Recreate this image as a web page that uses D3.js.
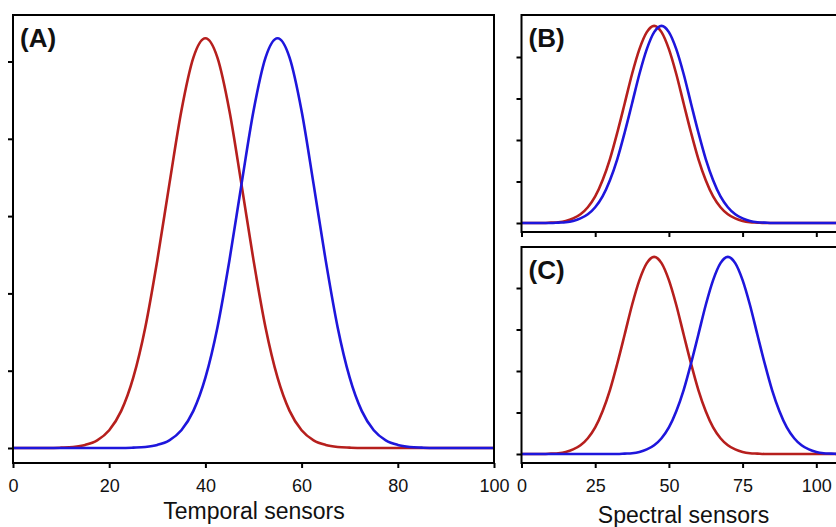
<!DOCTYPE html>
<html>
<head>
<meta charset="utf-8">
<script src="https://cdn.jsdelivr.net/npm/d3@7"></script>
<style>
  body { margin: 0; background: #fff; }
  svg { display: block; font-family: "Liberation Sans", Arial, sans-serif; }
</style>
</head>
<body>
<div id="root"></div>
<script>
// sensor positions (x) and responses
const temporalX = [0,2.5,5,7.5,10,12.5,15,17.5,20,22.5,25,27.5,30,32.5,35,37.5,40,42.5,45,47.5,50,52.5,55,57.5,60,62.5,65,67.5,70,72.5,75,77.5,80,82.5,85,87.5,90,92.5,95,97.5,100]
const temporalRed = [0,0,0,0,0.005,0.014,0.04,0.10,0.23,0.48,0.91,1.56,2.43,3.41,4.36,5.05,5.30,5.05,4.36,3.41,2.43,1.56,0.91,0.48,0.23,0.10,0.04,0.014,0.005,0,0,0,0,0,0,0,0,0,0,0,0]
const temporalBlue = [0,0,0,0,0,0,0,0,0,0,0.005,0.014,0.04,0.10,0.23,0.48,0.91,1.56,2.43,3.41,4.36,5.05,5.30,5.05,4.36,3.41,2.43,1.56,0.91,0.48,0.23,0.10,0.04,0.014,0.005,0,0,0,0,0,0]

const spectralX = [0,2.5,5,7.5,10,12.5,15,17.5,20,22.5,25,27.5,30,32.5,35,37.5,40,42.5,45,47.5,50,52.5,55,57.5,60,62.5,65,67.5,70,72.5,75,77.5,80,82.5,85,87.5,90,92.5,95,97.5,100,102.5,105,107.5]
const spectralRedB = [0,0,0,0,0.01,0.02,0.05,0.11,0.21,0.38,0.64,1.03,1.54,2.18,2.88,3.59,4.19,4.60,4.75,4.60,4.19,3.59,2.88,2.18,1.54,1.03,0.64,0.38,0.21,0.11,0.05,0.02,0.01,0,0,0,0,0,0,0,0,0,0,0]
const spectralBlueB = [0,0,0,0,0,0.01,0.02,0.05,0.11,0.21,0.38,0.64,1.03,1.54,2.18,2.88,3.59,4.19,4.60,4.75,4.60,4.19,3.59,2.88,2.18,1.54,1.03,0.64,0.38,0.21,0.11,0.05,0.02,0.01,0,0,0,0,0,0,0,0,0,0]
const spectralRedC = [0,0,0,0,0.01,0.02,0.05,0.11,0.21,0.38,0.64,1.03,1.54,2.18,2.88,3.59,4.19,4.60,4.75,4.60,4.19,3.59,2.88,2.18,1.54,1.03,0.64,0.38,0.21,0.11,0.05,0.02,0.01,0,0,0,0,0,0,0,0,0,0,0]
const spectralBlueC = [0,0,0,0,0,0,0,0,0,0,0,0,0,0,0.01,0.02,0.05,0.11,0.21,0.38,0.64,1.03,1.54,2.18,2.88,3.59,4.19,4.60,4.75,4.60,4.19,3.59,2.88,2.18,1.54,1.03,0.64,0.38,0.21,0.11,0.05,0.02,0.01,0]

const temporalTicks = [0,20,40,60,80,100]
const spectralTicks = [0,25,50,75,100]
const yTicksA = [0,1,2,3,4,5]
const yTicksBC = [0,1,2,3,4]

const RED = '#b61f1d'
const BLUE = '#1e16dc'

const width = 836
const height = 527

const svg = d3.select('#root').append('svg')
    .attr('width', width)
    .attr('height', height)

// scales
const xA = d3.scaleLinear().domain([0, 100]).range([13, 494])
const yA = d3.scaleLinear().domain([0, 5]).range([448, 61.5])
const xS = d3.scaleLinear().domain([0, 100]).range([521.5, 816.3])
const yB = d3.scaleLinear().domain([0, 4]).range([223, 57])
const yC = d3.scaleLinear().domain([0, 4]).range([454, 288])

const panels = [
    { id: 'A', x: xA, y: yA, xs: temporalX, red: temporalRed, blue: temporalBlue,
      left: 13, right: 494, top: 15, bottom: 463, yTicks: yTicksA, xTicks: temporalTicks, labels: true },
    { id: 'B', x: xS, y: yB, xs: spectralX, red: spectralRedB, blue: spectralBlueB,
      left: 521.5, right: 860, top: 15, bottom: 232, yTicks: yTicksBC, xTicks: spectralTicks, labels: false },
    { id: 'C', x: xS, y: yC, xs: spectralX, red: spectralRedC, blue: spectralBlueC,
      left: 521.5, right: 860, top: 247, bottom: 463, yTicks: yTicksBC, xTicks: spectralTicks, labels: true }
]

panels.forEach(p => {
    const g = svg.append('g').attr('class', 'panel-' + p.id)

    g.append('clipPath').attr('id', 'clip-' + p.id)
        .append('rect')
        .attr('x', p.left).attr('y', p.top)
        .attr('width', p.right - p.left).attr('height', p.bottom - p.top)

    // curves
    const line = d3.line()
        .x((d, i) => p.x(p.xs[i]))
        .y(d => p.y(d))
        .curve(d3.curveMonotoneX)

    const curves = g.append('g').attr('clip-path', `url(#clip-${p.id})`)
    curves.append('path')
        .attr('d', line(p.red))
        .attr('fill', 'none')
        .attr('stroke', RED)
        .attr('stroke-width', 2.6)
    curves.append('path')
        .attr('d', line(p.blue))
        .attr('fill', 'none')
        .attr('stroke', BLUE)
        .attr('stroke-width', 2.6)

    // y ticks, no labels
    const yAxis = g.append('g')
        .attr('transform', `translate(${p.left},0)`)
        .call(d3.axisLeft(p.y).tickValues(p.yTicks).tickSize(5).tickFormat(''))
    yAxis.select('.domain').remove()
    yAxis.selectAll('line').attr('stroke-width', 2)

    // x ticks
    const xAxis = g.append('g')
        .attr('transform', `translate(0,${p.bottom})`)
        .call(d3.axisBottom(p.x).tickValues(p.xTicks).tickSize(5).tickPadding(11)
            .tickFormat(p.labels ? d3.format('d') : ''))
    xAxis.select('.domain').remove()
    xAxis.selectAll('line').attr('stroke-width', 2)
    xAxis.selectAll('text')
        .attr('font-size', 18)
        .attr('font-family', '"Liberation Sans", Arial, sans-serif')
        .attr('fill', '#111')

    // frame
    g.append('rect')
        .attr('x', p.left).attr('y', p.top)
        .attr('width', p.right - p.left).attr('height', p.bottom - p.top)
        .attr('fill', 'none')
        .attr('stroke', '#000')
        .attr('stroke-width', 2)

    // panel letter
    g.append('text')
        .attr('x', p.left + 7)
        .attr('y', p.top + 32)
        .attr('font-size', 26)
        .attr('font-weight', 'bold')
        .attr('fill', '#111')
        .text(`(${p.id})`)
})

// axis titles
svg.append('text')
    .attr('x', 254).attr('y', 519)
    .attr('text-anchor', 'middle')
    .attr('font-size', 23)
    .attr('fill', '#111')
    .text('Temporal sensors')

svg.append('text')
    .attr('x', 683.5).attr('y', 523)
    .attr('text-anchor', 'middle')
    .attr('font-size', 23)
    .attr('fill', '#111')
    .text('Spectral sensors')
</script>
</body>
</html>
